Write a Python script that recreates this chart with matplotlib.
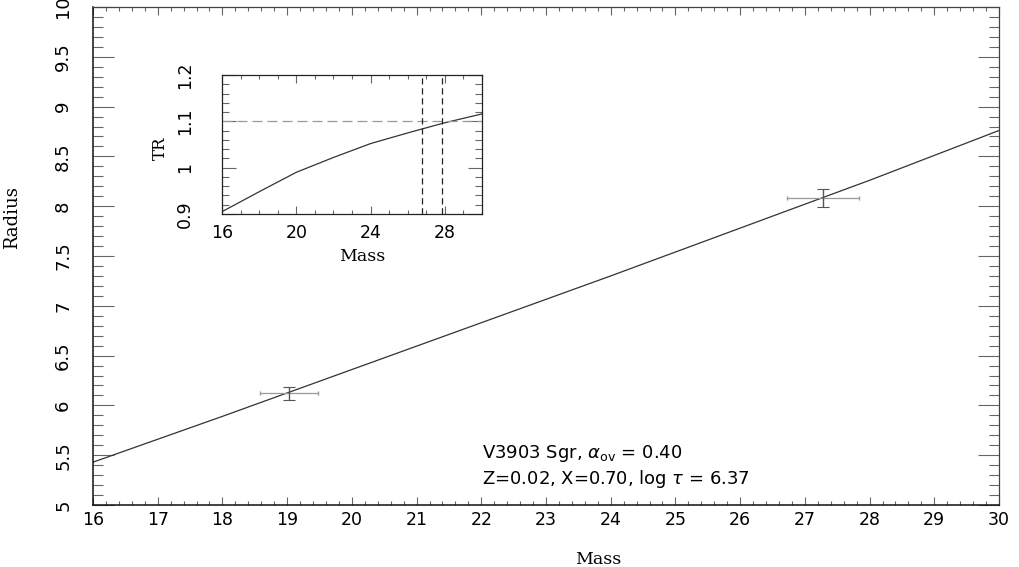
import numpy as np
import matplotlib.pyplot as plt
from matplotlib.ticker import MultipleLocator

# main panel: radius vs mass model line
mass_line = [16, 18, 20, 22, 24, 26, 28, 30]
radius_line = [5.43, 5.89, 6.36, 6.83, 7.30, 7.78, 8.26, 8.76]

# observed components
obs_mass = [19.03, 27.28]
obs_mass_err = [0.45, 0.55]
obs_radius = [6.12, 8.08]
obs_radius_err = [0.065, 0.09]

# inset: TR vs mass
inset_mass = [16, 18, 20, 22, 24, 26, 28, 30]
inset_tr = [0.905, 0.948, 0.990, 1.022, 1.052, 1.075, 1.097, 1.116]
tr_obs = 1.1
mass_marks = [26.76, 27.87]

main_xticks = list(range(16, 31))
main_yticks = [5, 5.5, 6, 6.5, 7, 7.5, 8, 8.5, 9, 9.5, 10]
main_yticklabels = ["5", "5.5", "6", "6.5", "7", "7.5", "8", "8.5", "9", "9.5", "10"]
inset_xticks = [16, 20, 24, 28]
inset_yticks = [0.9, 1.0, 1.1, 1.2]
inset_yticklabels = ["0.9", "1", "1.1", "1.2"]

W, H = 1019, 567
fig = plt.figure(figsize=(W / 100, H / 100), dpi=100)


def px_axes(left, top, right, bottom):
    return fig.add_axes([left / W, 1 - bottom / H, (right - left) / W, (bottom - top) / H])


tick_col = "#666666"
line_col = "#333333"

ax = px_axes(93, 7, 999, 505)
ax.plot(mass_line, radius_line, color=line_col, lw=0.9)
ax.errorbar(obs_mass, obs_radius, xerr=obs_mass_err, fmt="none",
            ecolor="#999999", elinewidth=0.9, capsize=1.5, capthick=1.0)
ax.errorbar(obs_mass, obs_radius, yerr=obs_radius_err, fmt="none",
            ecolor="#555555", elinewidth=1.0, capsize=4, capthick=0.8)
ax.set_xlim(16, 30)
ax.set_ylim(5, 10)
ax.set_xticks(main_xticks)
ax.set_yticks(main_yticks)
ax.set_yticklabels(main_yticklabels, rotation=90, va="center")
ax.xaxis.set_minor_locator(MultipleLocator(0.2))
ax.yaxis.set_minor_locator(MultipleLocator(0.1))
ax.tick_params(axis="x", which="major", direction="in", top=True, length=6,
               color=tick_col, width=0.8, pad=4, labelsize=12.5)
ax.tick_params(axis="x", which="minor", direction="in", top=True, length=3,
               color=tick_col, width=0.8)
ax.tick_params(axis="y", which="major", direction="in", right=True, length=15,
               color=tick_col, width=0.8, pad=15, labelsize=13)
ax.tick_params(axis="y", which="minor", direction="in", right=True, length=7,
               color=tick_col, width=0.8)
for s in ["left", "bottom"]:
    ax.spines[s].set_linewidth(1.1)
    ax.spines[s].set_color("#111111")
for s in ["top", "right"]:
    ax.spines[s].set_linewidth(0.9)
    ax.spines[s].set_color("#444444")

fig.text(12 / W, 1 - 218 / H, "Radius", rotation=90, ha="center", va="center",
         family="DejaVu Serif", fontsize=13)
fig.text(598 / W, 1 - 560 / H, "Mass", ha="center", va="center",
         family="DejaVu Serif", fontsize=12.5)

fig.text(482 / W, 1 - 453 / H, r"V3903 Sgr, $\alpha_{\rm ov}$ = 0.40",
         ha="left", va="center", fontsize=13)
fig.text(482 / W, 1 - 479 / H, r"Z=0.02, X=0.70, log $\tau$ = 6.37",
         ha="left", va="center", fontsize=13)

# inset
ins = px_axes(222, 75, 482, 214)
ins.plot(inset_mass, inset_tr, color=line_col, lw=0.9)
ins.axhline(tr_obs, color="#999999", lw=0.9, ls=(0, (8, 4)))
for m in mass_marks:
    ins.axvline(m, color="#222222", lw=0.9, ls=(0, (5, 3)))
ins.set_xlim(16, 30)
ins.set_ylim(0.9, 1.2)
ins.set_xticks(inset_xticks)
ins.set_yticks(inset_yticks)
ins.set_yticklabels(inset_yticklabels, rotation=90, va="center")
ins.xaxis.set_minor_locator(MultipleLocator(1))
ins.yaxis.set_minor_locator(MultipleLocator(0.02))
ins.tick_params(axis="x", which="major", direction="in", top=True, length=6,
                color=tick_col, width=0.8, pad=7, labelsize=12.5)
ins.tick_params(axis="x", which="minor", direction="in", top=True, length=3,
                color=tick_col, width=0.8)
ins.tick_params(axis="y", which="major", direction="in", right=True, length=10,
                color=tick_col, width=0.8, pad=20, labelsize=12.5)
ins.tick_params(axis="y", which="minor", direction="in", right=True, length=5,
                color=tick_col, width=0.8)
for s in ins.spines.values():
    s.set_linewidth(0.9)
    s.set_color("#222222")

fig.text(160 / W, 1 - 148 / H, "TR", rotation=90, ha="center", va="center",
         family="DejaVu Serif", fontsize=12)
fig.text(362 / W, 1 - 257 / H, "Mass", ha="center", va="center",
         family="DejaVu Serif", fontsize=12.5)

fig.savefig("out.png", dpi=100)
